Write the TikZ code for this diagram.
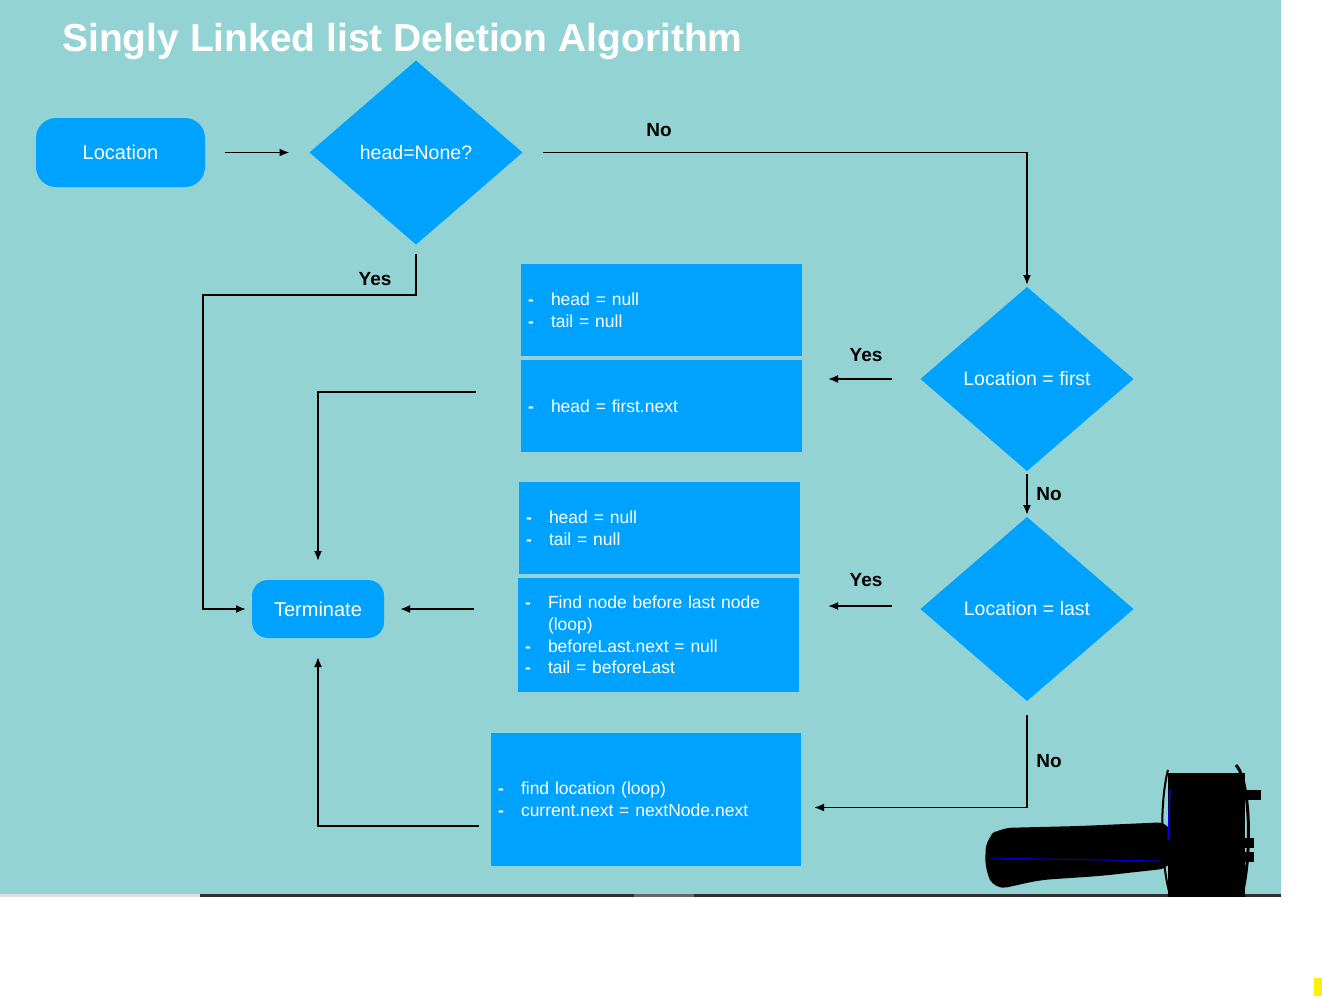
\documentclass[tikz,border=0pt]{standalone}
\usepackage{fontspec}
\setmainfont{Liberation Sans}
\usetikzlibrary{shapes.geometric,arrows.meta}
\definecolor{bgteal}{HTML}{93D3D3}
\definecolor{fblue}{HTML}{00A2FF}
\newcommand\itm{\makebox[23pt][l]{\textbf{-}}}
\tikzset{
  termbox/.style={rounded corners=#1, fill=fblue, text=white, font=\fontsize{20}{24}\selectfont, inner sep=0pt, outer sep=0pt},
  decbox/.style={diamond, fill=fblue, text=white, font=\fontsize{19.5}{24}\selectfont, minimum width=213pt, minimum height=184pt, inner sep=0pt, outer sep=0pt},
  opbox/.style={rectangle, fill=fblue, text=white, font=\fontsize{17.5}{21.7}\selectfont, align=left, anchor=north west, inner xsep=7pt, inner ysep=0pt, outer sep=0pt, text width=#1},
  arr/.style={-{Latex[length=10pt,width=8pt]}, line width=1.8pt, black},
  lbl/.style={font=\bfseries\fontsize{19}{22}\selectfont, text=black, inner sep=0pt}
}
\begin{document}
\begin{tikzpicture}[x=1pt,y=-1pt]
\useasboundingbox (0,0) rectangle (1322,998);
\fill[white] (0,0) rectangle (1322,998);
\fill[bgteal] (0,0) rectangle (1281,895);
% bottom strip
\fill[gray!25] (0,894) rectangle (200,897);
\fill[black!82] (200,894) rectangle (1281,897);
\fill[black!60] (634,894) rectangle (694,897);
\fill[yellow] (1314,978) rectangle (1322,996);

% title
\node[anchor=base west, text=white, font=\bfseries\fontsize{39}{44}\selectfont, inner sep=0pt] (title) at (62,52) {Singly Linked list Deletion Algorithm};

% nodes
\node[termbox=20pt, minimum width=169pt, minimum height=69pt] (loc) at (120.5,152.5) {Location};
\node[decbox] (d1) at (416,152.5) {head=None?};
\node[decbox] (d2) at (1027,379) {Location = first};
\node[decbox] (d3) at (1027,609) {Location = last};
\node[termbox=16pt, minimum width=132pt, minimum height=58pt] (term) at (318,609) {Terminate};

\node[opbox=267pt, minimum height=92pt] (b1) at (521,264) {\itm head = null\\\itm tail = null};
\node[opbox=267pt, minimum height=92pt] (b2) at (521,360) {\itm head = first.next};
\node[opbox=267pt, minimum height=92pt] (b3) at (519,482) {\itm head = null\\\itm tail = null};
\node[opbox=267pt, minimum height=114pt] (b4) at (518,578) {\itm Find node before last node\\\hspace*{23pt}(loop)\\\itm beforeLast.next = null\\\itm tail = beforeLast};
\node[opbox=296pt, minimum height=133pt] (b5) at (491,733) {\itm find location (loop)\\\itm current.next = nextNode.next};

% free connector ends
\coordinate (yl) at (203,295);
\coordinate (c2) at (476,392);
\coordinate (c4) at (474,609);
\coordinate (c5) at (479,826);

% connectors
\draw[arr, shorten <=20pt, shorten >=20pt] (loc.east) -- (d1.west);
\draw[arr, shorten <=20pt, shorten >=2pt] (d1.east) -| (d2.north);
\draw[arr, shorten <=9pt, shorten >=6pt] (d1.south) -- (d1.south |- yl) -- (yl) |- (term.west);
\draw[arr, shorten <=29pt, shorten >=26pt] (d2.west) -- (d2.west -| b2.east);
\draw[arr, shorten <=3pt, shorten >=2pt] (d2.south) -- (d3.north);
\draw[arr, shorten <=29pt, shorten >=29pt] ([yshift=3pt]d3.west) -- ([yshift=3pt]d3.west -| b4.east);
\draw[arr, shorten >=19pt] (c2) -| (term.north);
\draw[arr, shorten >=16pt] (c4) -- (term.east);
\draw[arr, shorten <=14pt, shorten >=13pt] (d3.south) |- ([yshift=-8pt]b5.east);
\draw[arr, shorten >=19pt] (c5) -| (term.south);

% labels
\node[lbl] (no1) at (659,130) {No};
\node[lbl] (yes1) at (375,279) {Yes};
\node[lbl] (yes2) at (866,355) {Yes};
\node[lbl] (no2) at (1049,494) {No};
\node[lbl] (yes3) at (866,580) {Yes};
\node[lbl] (no3) at (1049,761) {No};

% scribble
\fill[black, rounded corners=12pt] (986,838) -- (1000,828) -- (1080,826) -- (1170,822) -- (1172,868) -- (1100,876) -- (1040,880) -- (995,890) -- (985,870) -- cycle;
\fill[black] (1168,773) rectangle (1245,897);
\fill[black] (1240,790) rectangle (1261,800);
\fill[black] (1240,838) rectangle (1254,848);
\fill[black] (1240,852) rectangle (1254,862);
\draw[black, line width=3pt] (1236,765) .. controls (1250,780) and (1252,850) .. (1243,890);
\draw[black, line width=2pt] (1168,770) .. controls (1160,800) and (1160,860) .. (1170,895);
\draw[blue!80!black, line width=1pt] (990,858) -- (1160,861);
\draw[blue, line width=1.5pt] (1170,790) -- (1168,840);
\end{tikzpicture}
\end{document}
